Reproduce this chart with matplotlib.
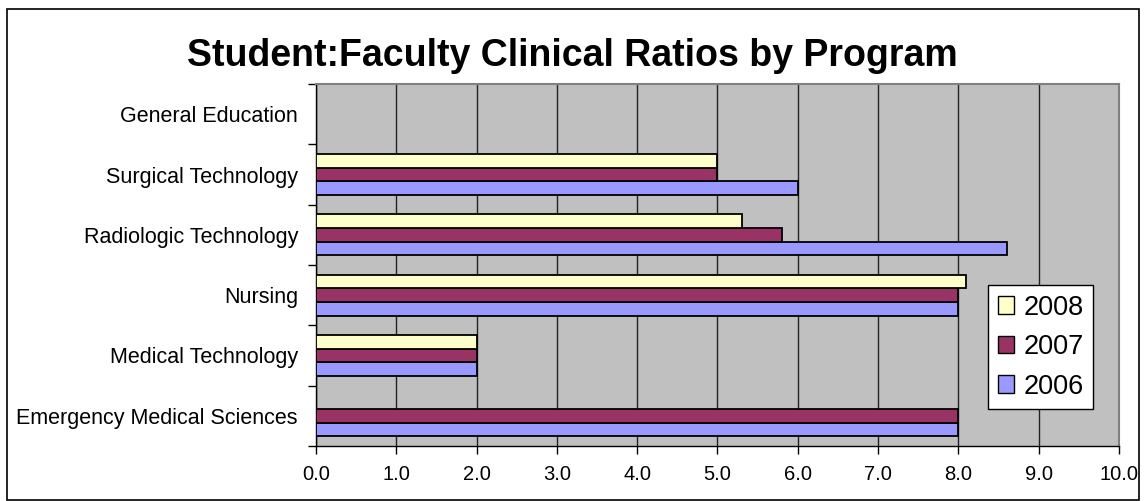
import matplotlib.pyplot as plt
import numpy as np
from matplotlib.patches import Rectangle, Patch

# data
programs = ["Emergency Medical Sciences", "Medical Technology", "Nursing",
            "Radiologic Technology", "Surgical Technology", "General Education"]
y2006 = [8.0, 2.0, 8.0, 8.6, 6.0, 0.0]
y2007 = [8.0, 2.0, 8.0, 5.8, 5.0, 0.0]
y2008 = [0.0, 2.0, 8.1, 5.3, 5.0, 0.0]
x_ticks = [0, 1, 2, 3, 4, 5, 6, 7, 8, 9, 10]

plt.rcParams['font.family'] = ['Liberation Sans', 'DejaVu Sans']

fig = plt.figure(figsize=(11.44, 5.01), dpi=100)
ax = fig.add_axes([0.2762, 0.1098, 0.7019, 0.7225])

# outer chart border
fig.patches.append(Rectangle((7 / 1144, 0.002), 1132 / 1144, 1 - 9 / 501 - 0.002,
                             transform=fig.transFigure, fill=False,
                             edgecolor='black', linewidth=1.2))

y = np.arange(len(programs))
h = 0.227
ax.barh(y - h, y2006, height=h, color='#9999FF', edgecolor='black', linewidth=1.3, zorder=3)
ax.barh(y, y2007, height=h, color='#993366', edgecolor='black', linewidth=1.3, zorder=3)
ax.barh(y + h, y2008, height=h, color='#FFFFCC', edgecolor='black', linewidth=1.3, zorder=3)

ax.set_facecolor('#C0C0C0')
ax.set_xlim(0, 10)
ax.set_ylim(-0.5, len(programs) - 0.5)

ax.set_xticks(x_ticks)
ax.set_xticklabels([f"{v:.1f}" for v in x_ticks], fontsize=14.5)
ax.tick_params(axis='x', direction='out', length=6, width=1, pad=8)

ax.set_yticks(np.arange(len(programs) + 1) - 0.5)
ax.set_yticklabels([])
ax.set_yticks(y, minor=True)
ax.set_yticklabels(programs, minor=True, fontsize=15.5)
ax.tick_params(axis='y', which='major', direction='out', length=6, width=1)
ax.tick_params(axis='y', which='minor', length=0, pad=13)

ax.grid(axis='x', color='#222222', linewidth=1, zorder=1)
ax.set_axisbelow(True)

for s in ['top', 'right']:
    ax.spines[s].set_color('#808080')
    ax.spines[s].set_linewidth(1.5)
for s in ['left', 'bottom']:
    ax.spines[s].set_color('black')
    ax.spines[s].set_linewidth(1)

fig.text(0.5, 0.888, "Student:Faculty Clinical Ratios by Program", ha='center', va='center',
         fontsize=27, fontweight='bold')

handles = [Patch(facecolor='#FFFFCC', edgecolor='black', label='2008'),
           Patch(facecolor='#993366', edgecolor='black', label='2007'),
           Patch(facecolor='#9999FF', edgecolor='black', label='2006')]
leg = ax.legend(handles=handles, loc='lower left', bbox_to_anchor=(0.837, 0.102),
                borderaxespad=0, fontsize=19.5, handlelength=0.6, handleheight=0.6,
                handletextpad=0.35, labelspacing=0.5, borderpad=0.35, fancybox=False,
                framealpha=1, edgecolor='black')
leg.get_frame().set_linewidth(1)

fig.savefig("out.png", dpi=100)
